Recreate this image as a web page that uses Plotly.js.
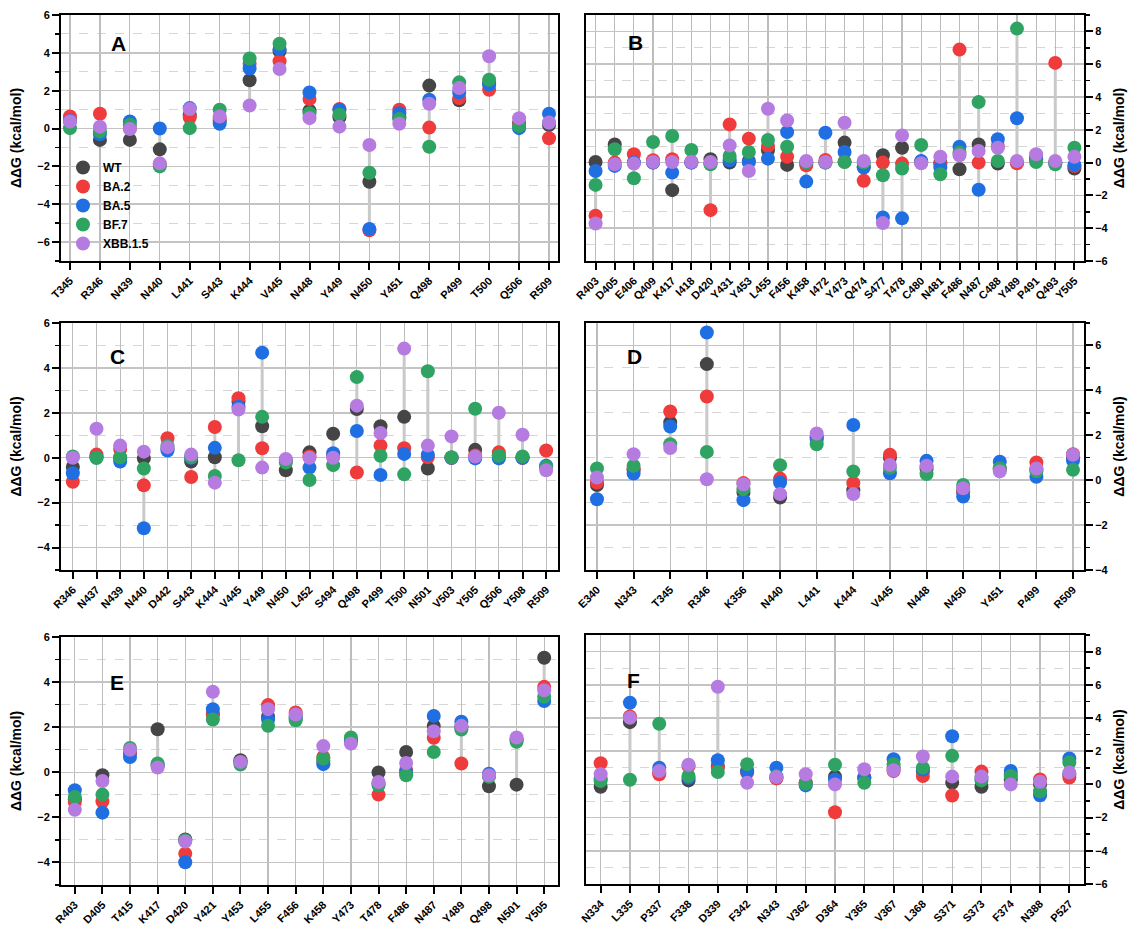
<!DOCTYPE html>
<html>
<head>
<meta charset="utf-8">
<script src="https://cdn.plot.ly/plotly-3.0.1.min.js"></script>
<style>html,body{margin:0;padding:0;background:#fff;}#chart{width:1132px;height:930px;}</style>
</head>
<body>
<div id="chart"></div>
<script>
// ---------- DATA ----------
const seriesNames = ['WT', 'BA.2', 'BA.5', 'BF.7', 'XBB.1.5'];
const yTitle = 'ΔΔG (kcal/mol)';

// Panel A
const catsA = ['T345','R346','N439','N440','L441','S443','K444','V445','N448','Y449','N450','Y451','Q498','P499','T500','Q506','R509'];
const wtA  = [0.45, -0.6, -0.6, -1.1, 0.7, 0.4, 2.55, 4.09, 0.94, 0.6, -2.81, 0.6, 2.27, 1.49, 2.4, 0.3, 0.19];
const ba2A = [0.64, 0.78, 0.0, -1.9, 0.58, 0.5, 3.43, 3.56, 1.56, 1.03, -5.38, 0.99, 0.05, 1.61, 2.05, 0.2, -0.51];
const ba5A = [0.4, -0.3, 0.37, 0.0, 1.08, 0.25, 3.17, 4.2, 1.91, 0.99, -5.31, 0.81, 1.52, 1.91, 2.32, 0.02, 0.78];
const bf7A = [0.02, -0.15, 0.2, -2.0, 0.02, 0.99, 3.7, 4.48, 0.81, 0.73, -2.34, 0.5, -0.96, 2.44, 2.58, 0.14, 0.3];
const xbbA = [0.37, 0.1, -0.03, -1.84, 1.03, 0.64, 1.22, 3.15, 0.55, 0.1, -0.87, 0.25, 1.31, 2.14, 3.82, 0.55, 0.32];

// Panel B
const catsB = ['R403','D405','E406','Q409','K417','I418','D420','Y431','Y453','L455','F456','K458','I472','Y473','Q474','S477','T478','C480','N481','F486','N487','C488','Y489','P491','Q493','Y505'];
const wtB  = [0.04, 1.11, 0.0, 0.0, -1.68, 0.0, 0.2, 0.0, 0.1, 0.75, -0.14, 0.0, 0.0, 1.22, -0.25, 0.45, 0.91, 0.0, 0.0, -0.41, 1.11, -0.06, 0.0, 0.2, 0.0, -0.36];
const ba2B = [-3.24, 0.0, 0.51, 0.14, 0.2, 0.05, -2.9, 2.33, 1.46, 1.01, 0.36, -0.16, 0.16, 0.05, -1.11, 0.0, -0.06, 0.05, -0.1, 6.89, 0.0, 1.01, -0.04, 0.2, 6.08, -0.2];
const ba5B = [-0.51, -0.2, 0.0, 0.0, -0.61, 0.0, -0.06, 0.14, 0.04, 0.24, 1.86, -1.16, 1.82, 0.65, -0.3, -3.34, -3.4, 0.1, -0.3, 0.97, -1.66, 1.42, 2.7, 0.3, 0.0, -0.14];
const bf7B = [-1.36, 0.81, -0.95, 1.26, 1.62, 0.77, -0.1, 0.4, 0.65, 1.38, 0.97, 0.0, 0.0, 0.04, 0.0, -0.77, -0.36, 1.07, -0.71, 0.61, 3.69, 0.1, 8.17, 0.04, -0.1, 0.91];
const xbbB = [-3.71, -0.1, -0.06, 0.04, 0.04, 0.04, 0.04, 1.05, -0.51, 3.28, 2.57, 0.1, 0.04, 2.43, 0.1, -3.69, 1.66, -0.04, 0.36, 0.45, 0.71, 0.91, 0.1, 0.51, 0.1, 0.36];

// Panel C
const catsC = ['R346','N437','N439','N440','D442','S443','K444','V445','Y449','N450','L452','S494','Q498','P499','T500','N501','V503','Y505','Q506','Y508','R509'];
const wtC  = [-0.41, 0.05, 0.0, -0.03, 0.4, -0.17, 0.02, 2.5, 1.4, -0.56, 0.24, 1.07, 2.17, 1.4, 1.82, -0.48, 0.0, 0.35, 0.1, 0.0, -0.4];
const ba2C = [-1.07, 0.14, 0.39, -1.23, 0.87, -0.86, 1.37, 2.65, 0.42, -0.1, 0.06, 0.1, -0.66, 0.54, 0.42, 0.02, 0.0, 0.1, 0.24, 0.0, 0.32];
const ba5C = [-0.69, 0.0, -0.17, -3.14, 0.32, 0.0, 0.44, 2.27, 4.68, -0.1, -0.44, 0.2, 1.19, -0.77, 0.17, 0.14, 0.0, -0.03, -0.03, 0.0, -0.36];
const bf7C = [0.06, 0.0, 0.02, -0.48, 0.54, 0.02, -0.81, -0.11, 1.82, -0.21, -0.99, -0.33, 3.59, 0.09, -0.74, 3.85, 0.02, 2.18, 0.09, 0.06, -0.4];
const xbbC = [0.0, 1.29, 0.54, 0.27, 0.47, 0.14, -1.11, 2.15, -0.44, -0.06, 0.0, 0.0, 2.32, 1.1, 4.86, 0.54, 0.95, 0.05, 2.0, 1.02, -0.56];

// Panel D
const catsD = ['E340','N343','T345','R346','K356','N440','L441','K444','V445','N448','N450','Y451','P499','R509'];
const wtD  = [-0.22, 0.45, 2.57, 5.17, -0.55, -0.77, 1.9, -0.45, 1.0, 0.5, -0.5, 0.5, 0.5, 1.0];
const ba2D = [-0.1, 0.5, 3.06, 3.73, -0.13, 0.07, 1.93, -0.13, 1.13, 0.6, -0.5, 0.5, 0.79, 1.16];
const ba5D = [-0.85, 0.3, 2.39, 6.58, -0.89, -0.1, 1.8, 2.46, 0.31, 0.86, -0.73, 0.82, 0.15, 0.86];
const bf7D = [0.52, 0.64, 1.6, 1.26, -0.4, 0.67, 1.6, 0.39, 0.55, 0.27, -0.21, 0.53, 0.4, 0.46];
const xbbD = [0.12, 1.16, 1.43, 0.04, -0.18, -0.62, 2.08, -0.62, 0.68, 0.64, -0.36, 0.39, 0.52, 1.13];

// Panel E
const catsE = ['R403','D405','T415','K417','D420','Y421','Y453','L455','F456','K458','Y473','T478','F486','N487','Y489','Q498','N501','Y505'];
const wtE  = [-1.2, -0.13, 0.85, 1.91, -2.98, 2.6, 0.53, 2.46, 2.5, 0.5, 1.4, -0.01, 0.9, 2.06, 2.0, -0.62, -0.55, 5.08];
const ba2E = [-1.32, -1.29, 0.9, 0.3, -3.61, 2.53, 0.45, 2.98, 2.65, 0.68, 1.4, -0.99, 0.1, 1.53, 0.39, -0.15, 1.45, 3.79];
const ba5E = [-0.8, -1.79, 0.68, 0.3, -3.99, 2.8, 0.45, 2.34, 2.4, 0.36, 1.4, -0.5, 0.01, 2.5, 2.24, -0.06, 1.45, 3.16];
const bf7E = [-1.1, -0.99, 1.08, 0.39, -3.02, 2.34, 0.34, 2.06, 2.31, 0.61, 1.54, -0.58, -0.13, 0.9, 1.9, -0.2, 1.35, 3.35];
const xbbE = [-1.66, -0.39, 1.0, 0.21, -3.07, 3.57, 0.46, 2.8, 2.56, 1.16, 1.27, -0.43, 0.41, 1.82, 2.06, -0.13, 1.54, 3.64];

// Panel F
const catsF = ['N334','L335','P337','F338','D339','F342','N343','V362','D364','Y365','V367','L368','S371','S373','F374','N388','P527'];
const wtF  = [-0.14, 3.75, 0.7, 0.24, 1.1, 0.8, 0.4, 0.1, 0.47, 0.4, 1.0, 0.8, 0.1, -0.14, 0.3, 0.0, 0.6];
const ba2F = [1.28, 4.09, 0.61, 1.1, 1.01, 0.7, 0.36, 0.1, -1.68, 0.45, 0.8, 0.51, -0.67, 0.77, 0.6, 0.3, 0.41];
const ba5F = [0.35, 4.92, 1.01, 0.4, 1.46, 0.77, 1.01, -0.06, 0.3, 0.4, 1.52, 0.9, 2.9, 0.4, 0.81, -0.65, 1.56];
const bf7F = [0.2, 0.28, 3.65, 0.51, 0.75, 1.22, 0.5, 0.04, 1.18, 0.1, 1.22, 1.01, 1.72, 0.24, 0.51, -0.41, 1.32];
const xbbF = [0.61, 4.01, 0.81, 1.18, 5.88, 0.1, 0.45, 0.61, 0.0, 0.91, 0.85, 1.68, 0.47, 0.47, 0.0, 0.16, 0.71];

// ---------- STYLE / LAYOUT ----------
const colors = ['#454545', '#ef3b3b', '#1f6fe3', '#2fa462', '#b57be0'];
const FONT = '"Liberation Sans", Arial, Helvetica, sans-serif';
const W = 1132, H = 930;

const panels = [
  {label:'A', cats:catsA, vals:[wtA,ba2A,ba5A,bf7A,xbbA], xr:[-0.3,16.3], yr:[-7,6], px:[61,558], py:[15,261], side:'left', lab:[118,43]},
  {label:'B', cats:catsB, vals:[wtB,ba2B,ba5B,bf7B,xbbB], xr:[-0.5,25.5], yr:[-6,9], px:[586,1084], py:[15,261], side:'right', lab:[635,42]},
  {label:'C', cats:catsC, vals:[wtC,ba2C,ba5C,bf7C,xbbC], xr:[-0.5,20.5], yr:[-5,6], px:[61,558], py:[323,570], side:'left', lab:[117,357]},
  {label:'D', cats:catsD, vals:[wtD,ba2D,ba5D,bf7D,xbbD], xr:[-0.3,13.3], yr:[-4,7], px:[586,1084], py:[323,570], side:'right', lab:[634,356]},
  {label:'E', cats:catsE, vals:[wtE,ba2E,ba5E,bf7E,xbbE], xr:[-0.5,17.5], yr:[-5,6], px:[61,558], py:[637,885], side:'left', lab:[117,682]},
  {label:'F', cats:catsF, vals:[wtF,ba2F,ba5F,bf7F,xbbF], xr:[-0.5,16.5], yr:[-6,9], px:[586,1084], py:[635,884], side:'right', lab:[633,680]}
];

const traces = [];
const layout = {
  width: W, height: H,
  margin: {l:0, r:0, t:0, b:0},
  paper_bgcolor: '#ffffff', plot_bgcolor: '#ffffff',
  font: {family: FONT, color: '#000', size: 11},
  showlegend: true,
  legend: {
    x: 63/W, y: 1 - 153/H, xanchor: 'left', yanchor: 'top',
    bgcolor: 'rgba(0,0,0,0)', borderwidth: 0,
    font: {family: FONT, size: 12, weight: 'bold', color: '#000'},
    itemwidth: 30, tracegroupgap: 0
  },
  annotations: []
};

panels.forEach((p, i) => {
  const n = i + 1;
  const xa = n === 1 ? 'x' : 'x' + n;
  const ya = n === 1 ? 'y' : 'y' + n;
  // range lines (min to max of the five series for each residue)
  const lx = [], ly = [];
  p.cats.forEach((c, j) => {
    const vs = p.vals.map(a => a[j]);
    lx.push(c, c, null);
    ly.push(Math.min(...vs), Math.max(...vs), null);
  });
  traces.push({x: lx, y: ly, xaxis: xa, yaxis: ya, type: 'scatter', mode: 'lines',
    line: {color: '#c9c9c9', width: 3}, showlegend: false, hoverinfo: 'skip'});
  p.vals.forEach((arr, k) => {
    traces.push({x: p.cats, y: arr, xaxis: xa, yaxis: ya, type: 'scatter', mode: 'markers',
      name: seriesNames[k], legendgroup: seriesNames[k], showlegend: n === 1,
      marker: {color: colors[k], size: 14, line: {width: 0}}});
  });
  const xKey = n === 1 ? 'xaxis' : 'xaxis' + n;
  const yKey = n === 1 ? 'yaxis' : 'yaxis' + n;
  layout[xKey] = {
    domain: [p.px[0]/W, p.px[1]/W], anchor: ya, type: 'category',
    categoryorder: 'array', categoryarray: p.cats,
    range: p.xr, showline: true, linecolor: '#000', linewidth: 2, mirror: true,
    ticks: 'outside', ticklen: 7, tickwidth: 2, tickcolor: '#000',
    tickangle: -45, tickfont: {family: FONT, size: 11, weight: 'bold', color: '#000'},
    showgrid: true, gridcolor: '#bdbdbd', gridwidth: 1.2, zeroline: false, fixedrange: true
  };
  layout[yKey] = {
    domain: [1 - p.py[1]/H, 1 - p.py[0]/H], anchor: xa, side: p.side,
    range: p.yr, dtick: 2, tick0: 0,
    showline: true, linecolor: '#000', linewidth: 2, mirror: true,
    ticks: 'outside', ticklen: 7, tickwidth: 2, tickcolor: '#000',
    tickfont: {family: FONT, size: 11, weight: 'bold', color: '#000'},
    showgrid: true, gridcolor: '#c4c4c4', gridwidth: 1.5, zeroline: false,
    minor: {dtick: 1, tick0: 0, ticks: 'outside', ticklen: 4, tickwidth: 1.5, tickcolor: '#000',
      showgrid: true, gridcolor: '#d6d6d6', gridwidth: 1, griddash: 'dash'},
    title: {text: yTitle, font: {family: FONT, size: 14, weight: 'bold', color: '#000'},
      standoff: p.side === 'left' ? 12 : 7},
    fixedrange: true
  };
  layout.annotations.push({
    text: p.label, xref: 'paper', yref: 'paper', x: p.lab[0]/W, y: 1 - p.lab[1]/H,
    xanchor: 'center', yanchor: 'middle', showarrow: false,
    font: {family: FONT, size: 21, weight: 'bold', color: '#000'}
  });
});

Plotly.newPlot('chart', traces, layout, {displayModeBar: false, staticPlot: true});
</script>
</body>
</html>
